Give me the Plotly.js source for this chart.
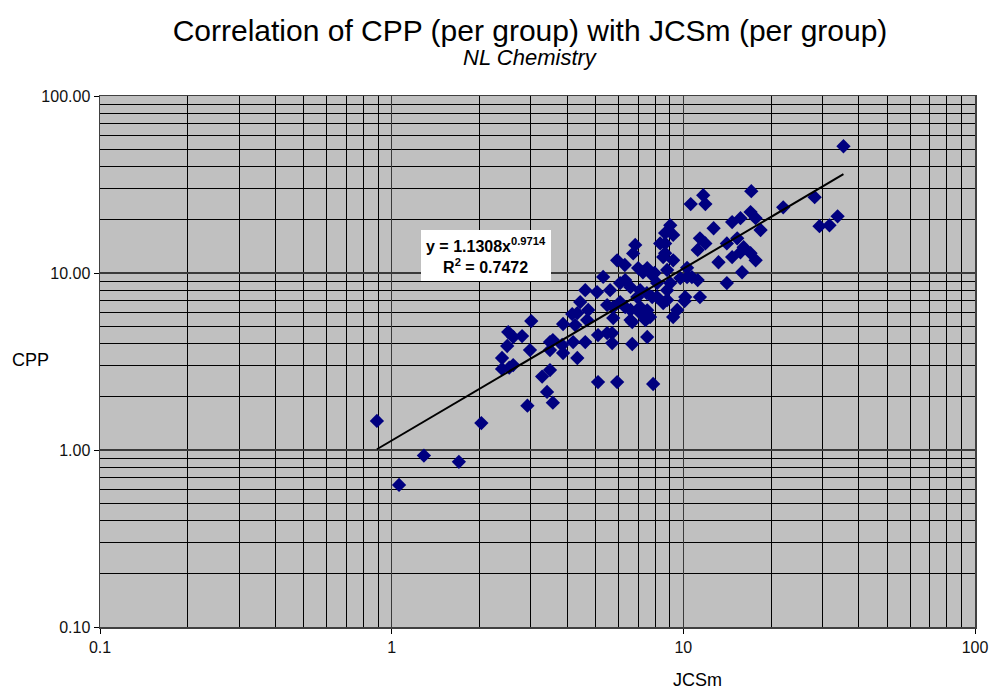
<!DOCTYPE html>
<html>
<head>
<meta charset="utf-8">
<script src="https://cdn.plot.ly/plotly-3.0.1.min.js"></script>
<style>
  html, body { margin: 0; padding: 0; background: #fff; }
  #chart { width: 990px; height: 693px; }
</style>
</head>
<body>
<div id="chart"></div>
<script>
// JCSm (per group) values
const jcsm = [
  0.89, 1.06, 1.29, 1.70, 2.03, 2.92, 3.41, 3.57, 3.01, 2.51,
  2.80, 2.61, 2.49, 2.98, 2.39, 2.61, 2.39, 2.53, 3.49, 3.57,
  3.84, 3.87, 3.49, 3.28, 3.49, 4.16, 3.87, 4.26, 4.19, 4.33,
  4.61, 5.10, 5.48, 5.70, 5.70, 6.68, 7.52, 6.68, 7.42, 5.10,
  5.93, 7.88, 6.84, 6.73, 5.93, 6.30, 5.31, 4.61, 5.06, 4.43,
  4.72, 4.33, 4.68, 5.61, 6.07, 6.32, 6.59, 7.52, 7.82, 8.13,
  8.33, 8.66, 8.53, 6.95, 7.11, 6.59, 6.07, 5.48, 5.75, 6.59,
  7.69, 8.13, 8.53, 11.7, 10.6, 11.9, 17.1, 9.02, 9.23, 12.7,
  14.7, 15.7, 17.0, 17.7, 11.4, 11.9, 11.2, 14.1, 15.3, 16.1,
  14.7, 15.7, 13.2, 15.9, 14.1, 8.66, 8.66, 9.23, 8.80, 10.3,
  10.7, 11.2, 9.76, 9.02, 8.80, 10.15, 11.4, 35.4, 28.2, 29.3,
  31.7, 33.8, 22.0, 18.4, 17.7, 17.0, 9.23, 9.53, 10.1, 7.52,
  7.82, 7.11, 6.32, 5.75, 8.80, 10.3, 7.00, 7.27, 7.97, 7.11,
  7.50
];
// CPP (per group) values
const cpp = [
  1.46, 0.635, 0.93, 0.857, 1.42, 1.78, 2.13, 1.85, 5.35, 4.64,
  4.40, 4.35, 3.87, 3.67, 3.31, 3.02, 2.87, 2.92, 4.07, 4.18,
  3.92, 3.53, 3.67, 2.60, 2.83, 5.86, 5.15, 5.08, 4.07, 3.31,
  4.07, 4.46, 4.58, 4.58, 4.02, 3.97, 4.35, 5.28, 5.41, 2.42,
  2.42, 2.36, 14.4, 12.9, 11.8, 11.1, 9.5, 8.0, 7.8, 6.85,
  6.18, 5.94, 5.42, 8.0, 8.77, 9.12, 8.32, 10.66, 9.74, 8.77,
  14.7, 16.8, 12.3, 7.31, 6.42, 6.18, 6.85, 6.59, 5.56, 5.42,
  5.64, 7.31, 6.76, 27.5, 24.5, 24.5, 29.0, 18.6, 16.4, 17.9,
  19.4, 20.4, 22.1, 20.4, 15.7, 14.7, 13.5, 14.7, 15.7, 14.0,
  12.3, 13.1, 11.5, 10.1, 8.77, 14.7, 12.95, 11.8, 10.4, 10.7,
  9.48, 9.12, 9.36, 8.77, 8.0, 7.31, 7.31, 52.0, 26.8, 18.4,
  18.6, 20.9, 23.5, 17.5, 11.8, 12.95, 5.64, 6.18, 6.94, 6.15,
  7.31, 5.94, 6.42, 6.42, 7.04, 9.48, 10.66, 10.1, 10.0, 8.0,
  7.7
];
// Power trendline coefficients (y = a * x^b), as printed on the chart
const trendA = 1.1308;
const trendB = 0.9714;
const trendR2 = 0.7472;

// Axis tick labels
const xTickVals = [0.1, 1, 10, 100];
const xTickText = ["0.1", "1", "10", "100"];
const yTickVals = [0.1, 1, 10, 100];
const yTickText = ["0.10", "1.00", "10.00", "100.00"];

const xMin = Math.min(...jcsm), xMax = Math.max(...jcsm);
const trendX = [xMin, xMax];
const trendY = trendX.map(v => trendA * Math.pow(v, trendB));

const FONT = "Liberation Sans, Arial, sans-serif";

const traces = [
  {
    type: "scatter", mode: "markers",
    x: jcsm, y: cpp,
    marker: { symbol: "diamond", size: 11, color: "#000080", line: { width: 0 } },
    showlegend: false, hoverinfo: "x+y"
  },
  {
    type: "scatter", mode: "lines",
    x: trendX, y: trendY,
    line: { color: "#000000", width: 2 },
    showlegend: false, hoverinfo: "skip"
  }
];

const axisCommon = {
  type: "log",
  tickmode: "array",
  showgrid: true, gridcolor: "#3a3a3a", gridwidth: 1.5,
  showline: true, linecolor: "#404040", linewidth: 1.5, mirror: true,
  ticks: "outside", ticklen: 5, tickcolor: "#000000", tickwidth: 1,
  tickfont: { family: FONT, size: 16, color: "#111" },
  zeroline: false,
  minor: { dtick: "D1", showgrid: true, gridcolor: "#000000", gridwidth: 1, ticks: "" }
};

const layout = {
  width: 990, height: 693,
  margin: { l: 100, r: 15, t: 96, b: 66 },
  paper_bgcolor: "#ffffff",
  plot_bgcolor: "#C0C0C0",
  title: {
    text: "Correlation of CPP (per group) with JCSm (per group)",
    font: { family: FONT, size: 30, color: "#000" },
    x: 530 / 990, xanchor: "center", xref: "container",
    y: 1 - 30 / 693, yanchor: "middle", yref: "container"
  },
  xaxis: Object.assign({}, axisCommon, {
    range: [-1, 2], tickvals: xTickVals, ticktext: xTickText
  }),
  yaxis: Object.assign({}, axisCommon, {
    range: [-1, 2], tickvals: yTickVals, ticktext: yTickText
  }),
  annotations: [
    {
      text: "<i>NL Chemistry</i>", xref: "paper", yref: "paper",
      x: (530 - 100) / 875, y: (627 - 58) / 531, xanchor: "center", yanchor: "middle",
      showarrow: false, font: { family: FONT, size: 22, color: "#000" }
    },
    {
      text: "JCSm", xref: "paper", yref: "paper",
      x: (697 - 100) / 875, y: (627 - 680) / 531, xanchor: "center", yanchor: "middle",
      showarrow: false, font: { family: FONT, size: 18, color: "#000" }
    },
    {
      text: "CPP", xref: "paper", yref: "paper",
      x: (30 - 100) / 875, y: (627 - 360) / 531, xanchor: "center", yanchor: "middle",
      showarrow: false, font: { family: FONT, size: 18, color: "#000" }
    },
    {
      text: "<b>y = " + trendA.toFixed(4) + "x<sup>" + trendB.toFixed(4) + "</sup></b><br><b>R<sup>2</sup> = " + trendR2.toFixed(4) + "</b>",
      xref: "paper", yref: "paper",
      x: (486 - 100) / 875, y: (627 - 255) / 531, xanchor: "center", yanchor: "middle",
      showarrow: false, align: "center",
      font: { family: FONT, size: 16, color: "#000" },
      bgcolor: "#ffffff", borderpad: 5, borderwidth: 0
    }
  ]
};

Plotly.newPlot("chart", traces, layout, { displayModeBar: false, staticPlot: true });
</script>
</body>
</html>
